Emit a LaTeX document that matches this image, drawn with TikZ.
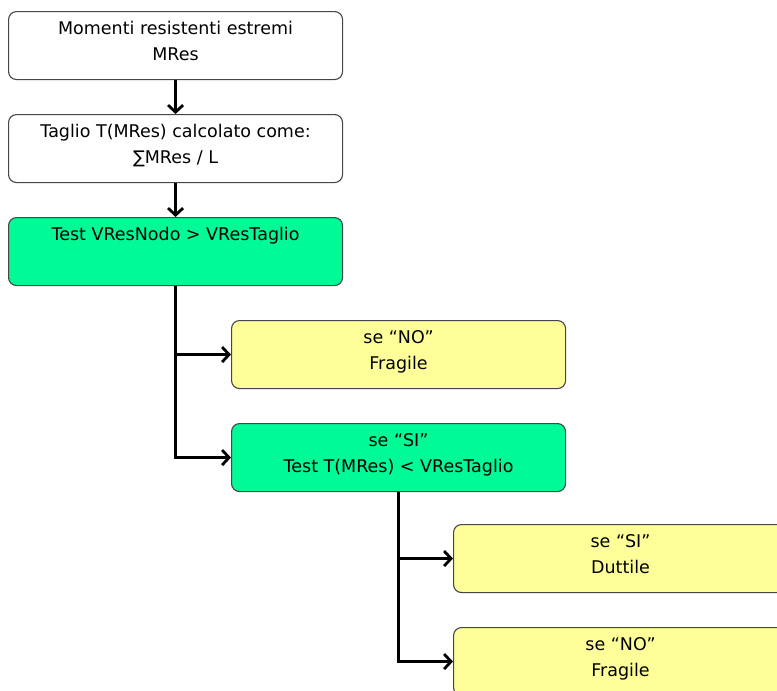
\documentclass[tikz,border=0pt]{standalone}
\usepackage{fontspec}
\setmainfont{DejaVu Sans}
\usetikzlibrary{arrows.meta}
\definecolor{boxgreen}{RGB}{0,250,150}
\definecolor{boxyellow}{RGB}{255,255,153}
\definecolor{boxline}{RGB}{70,70,70}

\begin{document}
\begin{tikzpicture}[x=1pt,y=-1pt,
  box/.style={draw=boxline, line width=1.1pt, rounded corners=8pt,
    minimum width=334pt, minimum height=68pt, anchor=north west,
    align=center, inner sep=0pt, text height=34pt, text depth=4pt,
    font=\fontsize{17.5}{26}\selectfont},
  plain/.style={box, fill=white},
  test/.style={box, fill=boxgreen},
  result/.style={box, fill=boxyellow},
  conn/.style={line width=2.8pt, line join=miter,
    -{Straight Barb[length=7pt,width=15pt]}}]
  \useasboundingbox (0,0) rectangle (777,691);
  \clip (0,0) rectangle (777,691);

  % main chain
  \node[plain]  (mres)  at (8,11)  {Momenti resistenti estremi\\MRes};
  \node[plain]  (shear) at (8,114) {Taglio T(MRes) calcolato come:\\∑MRes / L};
  \node[test]   (t1)    at (8,217) {Test VResNodo > VResTaglio\\\mbox{}};

  % first test outcomes
  \node[result] (no1)   at (231,320) {se “NO”\\Fragile};
  \node[test]   (t2)    at (231,423) {se “SI”\\Test T(MRes) < VResTaglio};

  % second test outcomes
  \node[result] (si2)   at (453,524) {se “SI”\\Duttile};
  \node[result] (no2)   at (453,627) {se “NO”\\Fragile};

  \draw[conn] (mres.south) -- (shear.north);
  \draw[conn] (shear.south) -- (t1.north);
  \draw[conn] (t1.south) |- (no1.west);
  \draw[conn] (t1.south) |- (t2.west);
  \draw[conn] (t2.south) |- (si2.west);
  \draw[conn] (t2.south) |- (no2.west);
\end{tikzpicture}
\end{document}
